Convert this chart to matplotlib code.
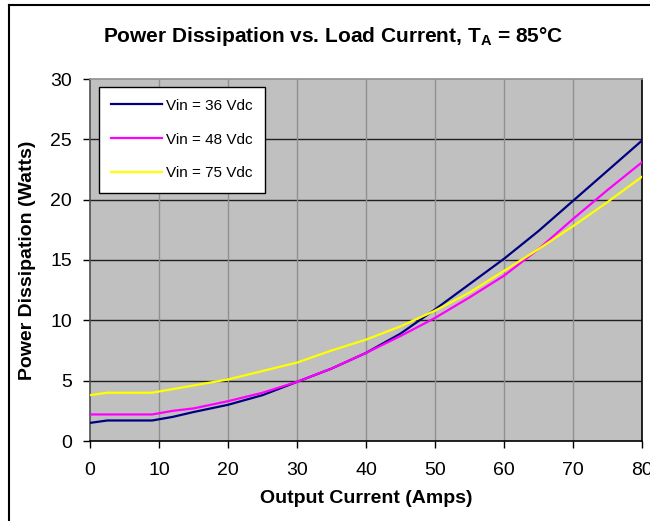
import matplotlib
matplotlib.use("Agg")
from matplotlib import pyplot as plt
from matplotlib.lines import Line2D

plt.rcParams['font.family'] = ['Liberation Sans', 'DejaVu Sans']
plt.rcParams['mathtext.fontset'] = 'custom'
plt.rcParams['mathtext.rm'] = 'Liberation Sans'
plt.rcParams['mathtext.bf'] = 'Liberation Sans:bold'

# output current (A)
current = [0, 2.5, 9, 12, 15, 20, 25, 30, 35, 40, 45, 50, 55, 60, 65, 70, 75, 80]

# power dissipation (W) per input voltage
p_36v = [1.5, 1.7, 1.7, 2.0, 2.4, 3.0, 3.8, 4.9, 6.0, 7.3, 8.9, 10.9, 13.0, 15.1, 17.4, 19.9, 22.4, 24.9]
p_48v = [2.2, 2.2, 2.2, 2.5, 2.7, 3.3, 4.0, 4.9, 6.0, 7.3, 8.7, 10.2, 11.9, 13.7, 15.9, 18.4, 20.8, 23.1]
p_75v = [3.8, 4.0, 4.0, 4.3, 4.6, 5.1, 5.8, 6.5, 7.5, 8.4, 9.5, 10.8, 12.3, 14.1, 15.9, 17.8, 19.8, 21.9]

labels = ["Vin = 36 Vdc", "Vin = 48 Vdc", "Vin = 75 Vdc"]
colors = ["#000080", "#FF00FF", "#FFFF00"]

fig = plt.figure(figsize=(6.5, 5.21), dpi=100)
ax = fig.add_axes([90 / 650, 1 - 441 / 521, 552 / 650, 362 / 521])
ax.set_facecolor("#C0C0C0")

for ys, lab, col in zip([p_36v, p_48v, p_75v], labels, colors):
    ax.plot(current, ys, color=col, lw=1.6, label=lab, zorder=3)

ax.set_xlim(0, 80)
ax.set_ylim(0, 30)
ax.set_xticks(range(0, 81, 10))
ax.set_yticks(range(0, 31, 5))
ax.tick_params(labelsize=14, direction="out", length=5, width=1)
ax.tick_params(axis="x", pad=10)
ax.tick_params(axis="y", pad=8)

# gridlines: horizontal dark, vertical gray
for y in range(5, 30, 5):
    ax.axhline(y, color="#202020", lw=1.0, zorder=1)
for x in range(10, 80, 10):
    ax.axvline(x, color="#909090", lw=1.0, zorder=1)

ax.spines["top"].set_color("#909090")
ax.spines["right"].set_color("#000000")
ax.spines["left"].set_color("#505050")
ax.spines["bottom"].set_color("#000000")
for s in ax.spines.values():
    s.set_linewidth(1.2)

ax.set_xlabel("Output Current (Amps)", fontsize=14, fontweight="bold", labelpad=8)
ax.set_ylabel("Power Dissipation (Watts)", fontsize=14, fontweight="bold", labelpad=10)

leg = ax.legend(loc="upper left", bbox_to_anchor=(9 / 552, 1 - 7.5 / 362), fontsize=11,
                fancybox=False, framealpha=1, edgecolor="#000000", labelspacing=1.3,
                handlelength=3.3, handletextpad=0.3, borderpad=0.8, borderaxespad=0)
leg.get_frame().set_linewidth(1.0)

fig.text(333 / 650, 1 - 37 / 521, r"Power Dissipation vs. Load Current, $\mathbf{T_A}$ = 85°C",
         ha="center", va="center", fontsize=15, fontweight="bold")

# chart frame (left and top edges visible)
fig.add_artist(Line2D([9 / 650, 9 / 650], [0, 1 - 5 / 521], transform=fig.transFigure, color="black", lw=1.5))
fig.add_artist(Line2D([9 / 650, 1], [1 - 5 / 521, 1 - 5 / 521], transform=fig.transFigure, color="black", lw=1.5))

fig.savefig("out.png", dpi=100)
